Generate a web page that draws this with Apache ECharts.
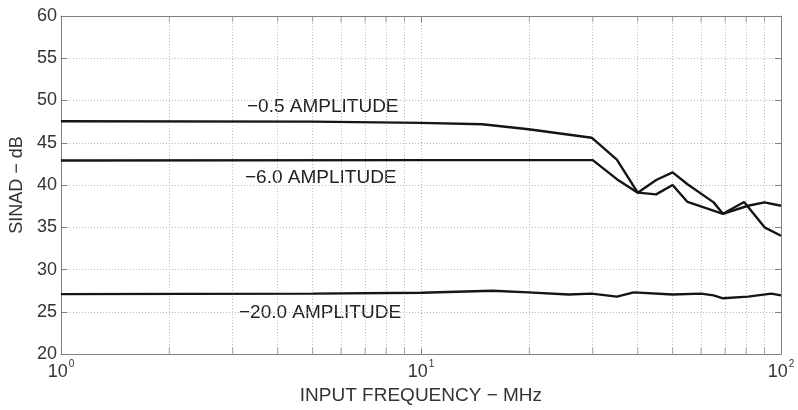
<!DOCTYPE html>
<html>
<head>
<meta charset="utf-8">
<script src="https://cdn.jsdelivr.net/npm/echarts@6/dist/echarts.min.js"></script>
<style>
html,body{margin:0;padding:0;background:#fff;}
#chart{width:798px;height:410px;}
</style>
</head>
<body>
<div id="chart"></div>
<script>
// ---- data ----
const freqHigh = [1, 5, 10, 14.8, 19.9, 29.8, 35, 40, 45, 50, 55, 65, 69, 79, 90, 100];
const sinadHigh = [47.55, 47.5, 47.35, 47.2, 46.6, 45.6, 43.0, 39.1, 40.6, 41.5, 40.1, 37.95, 36.6, 38.0, 35.0, 34.0];
const freqMid = [1, 10, 30, 35, 40, 45, 50, 55, 69, 81, 90, 100];
const sinadMid = [42.9, 42.95, 42.95, 40.7, 39.1, 38.9, 40.0, 38.0, 36.6, 37.55, 37.95, 37.55];
const freqLow = [1, 5, 10, 15.8, 19.9, 25.7, 29.8, 35, 39, 50, 60, 65, 69, 81, 94, 100];
const sinadLow = [27.1, 27.15, 27.25, 27.5, 27.3, 27.05, 27.15, 26.8, 27.3, 27.05, 27.15, 26.95, 26.6, 26.8, 27.15, 26.95];
const seriesNames = ['\u22120.5 AMPLITUDE', '\u22126.0 AMPLITUDE', '\u221220.0 AMPLITUDE'];
const minorFreqs = [2, 3, 4, 5, 6, 7, 8, 9, 20, 30, 40, 50, 60, 70, 80, 90];
const yTicks = [20, 25, 30, 35, 40, 45, 50, 55, 60];
const xTitle = 'INPUT FREQUENCY \u2212 MHz';
const yTitle = 'SINAD \u2212 dB';

function pairs(xs, ys) { return xs.map((x, i) => [x, ys[i]]); }

const FONT = '"Liberation Sans", Arial, Helvetica, sans-serif';
const AXIS_COLOR = '#808080';
const GRID_COLOR = '#b8b8b8';
const LINE_COLOR = '#151515';

const chart = echarts.init(document.getElementById('chart'), null, {renderer: 'canvas'});

const lineSeries = (name, data) => ({
  name: name, type: 'line', data: data, showSymbol: false, symbol: 'none',
  smooth: false, silent: true, animation: false,
  lineStyle: {color: LINE_COLOR, width: 2.4}, z: 5
});

const option = {
  backgroundColor: '#ffffff',
  animation: false,
  textStyle: {fontFamily: FONT},
  grid: {left: 57, right: 17, top: 16, bottom: 54, containLabel: false},
  xAxis: [{
    type: 'log', logBase: 10, min: 1, max: 100,
    name: xTitle, nameLocation: 'middle', nameGap: 24,
    nameTextStyle: {fontSize: 19, color: '#333', fontFamily: FONT},
    axisLine: {show: true, lineStyle: {color: AXIS_COLOR, width: 1}},
    axisTick: {show: true, inside: true, length: 6, lineStyle: {color: AXIS_COLOR}},
    axisLabel: {
      margin: 5, color: '#333', fontFamily: FONT,
      formatter: function (v) { return '{b|10}{s|' + Math.round(Math.log10(v)) + '}'; },
      rich: {
        b: {fontSize: 18, color: '#333', fontFamily: FONT, verticalAlign: 'bottom'},
        s: {fontSize: 10, color: '#333', fontFamily: FONT, verticalAlign: 'bottom', padding: [0, 0, 12, 1]}
      }
    },
    splitLine: {show: true, lineStyle: {color: GRID_COLOR, type: [1, 2], width: 1}}
  }, {
    type: 'log', logBase: 10, min: 1, max: 100, position: 'top',
    axisLine: {show: true, lineStyle: {color: AXIS_COLOR, width: 1}},
    axisTick: {show: true, inside: true, length: 6, lineStyle: {color: AXIS_COLOR}},
    axisLabel: {show: false}, splitLine: {show: false}
  }],
  yAxis: [{
    type: 'value', min: 20, max: 60, interval: 5,
    name: yTitle, nameLocation: 'middle', nameGap: 28, nameRotate: 90,
    nameTextStyle: {fontSize: 18, color: '#333', fontFamily: FONT},
    axisLine: {show: true, lineStyle: {color: AXIS_COLOR, width: 1}},
    axisTick: {show: true, inside: true, length: 6, lineStyle: {color: AXIS_COLOR}},
    axisLabel: {fontSize: 18, color: '#333', margin: 4, fontFamily: FONT},
    splitLine: {show: true, lineStyle: {color: GRID_COLOR, type: [1, 2], width: 1}}
  }, {
    type: 'value', min: 20, max: 60, interval: 5, position: 'right',
    axisLine: {show: true, lineStyle: {color: AXIS_COLOR, width: 1}},
    axisTick: {show: true, inside: true, length: 6, lineStyle: {color: AXIS_COLOR}},
    axisLabel: {show: false}, splitLine: {show: false}
  }],
  series: [
    lineSeries(seriesNames[0], pairs(freqHigh, sinadHigh)),
    lineSeries(seriesNames[1], pairs(freqMid, sinadMid)),
    lineSeries(seriesNames[2], pairs(freqLow, sinadLow)),
    {
      name: 'minor-grid', type: 'line', data: [], silent: true,
      markLine: {
        silent: true, symbol: ['none', 'none'], animation: false,
        label: {show: false},
        lineStyle: {color: GRID_COLOR, type: [1, 2], width: 1},
        data: minorFreqs.map(f => ({xAxis: f}))
      }
    },
    {
      name: 'minor-ticks-bottom', type: 'scatter', silent: true, clip: false,
      symbol: 'rect', symbolSize: [1, 6], symbolOffset: [0, -3],
      itemStyle: {color: AXIS_COLOR},
      data: minorFreqs.map(f => [f, yTicks[0]]), z: 4
    },
    {
      name: 'minor-ticks-top', type: 'scatter', silent: true, clip: false,
      symbol: 'rect', symbolSize: [1, 6], symbolOffset: [0, 3],
      itemStyle: {color: AXIS_COLOR},
      data: minorFreqs.map(f => [f, yTicks[yTicks.length - 1]]), z: 4
    }
  ],
  graphic: [
    {type: 'text', left: 247, top: 97, silent: true,
     style: {text: seriesNames[0], fill: '#222', font: '19px ' + FONT}},
    {type: 'text', left: 245, top: 168, silent: true,
     style: {text: seriesNames[1], fill: '#222', font: '19px ' + FONT}},
    {type: 'text', left: 239, top: 303, silent: true,
     style: {text: seriesNames[2], fill: '#222', font: '19px ' + FONT}}
  ]
};

chart.setOption(option);
</script>
</body>
</html>
